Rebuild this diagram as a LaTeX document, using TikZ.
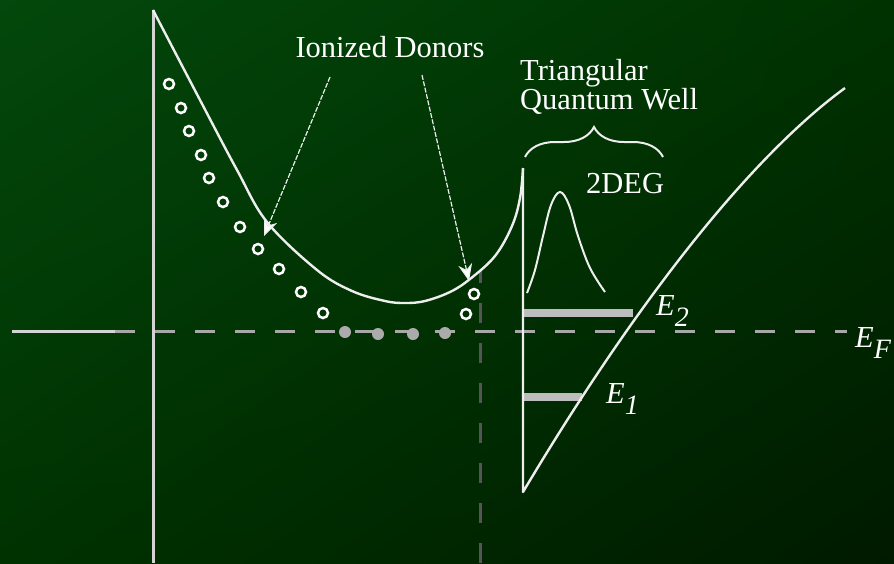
\documentclass[tikz,border=0pt]{standalone}
\usepackage{fontspec}
\setmainfont{Liberation Serif}
\usetikzlibrary{arrows.meta,decorations.pathreplacing,shadings}
\definecolor{bgA}{HTML}{03480C}
\definecolor{bgB}{HTML}{003200}
\definecolor{bgC}{HTML}{001A00}
\definecolor{linew}{HTML}{EEEEEE}
\definecolor{axisc}{HTML}{D4D4D4}
\definecolor{dashc}{HTML}{A8A8A8}
\definecolor{vdashc}{HTML}{555555}
\definecolor{barc}{HTML}{BDBDBD}
\definecolor{dotc}{HTML}{ABABAB}
\tikzset{
  band/.style={draw=linew, line width=2.4pt, line join=round},
  axisline/.style={draw=axisc, line width=3pt},
  efdash/.style={draw=dashc, line width=3pt, dash pattern=on 20pt off 20pt},
  vdash/.style={draw=vdashc, line width=3pt, dash pattern=on 20pt off 20pt},
  levelbar/.style={draw=barc, line width=8pt},
  ionring/.style={draw=white, line width=2.5pt},
  neutraldot/.style={fill=dotc},
  pointer/.style={draw=linew, line width=1.2pt, dash pattern=on 5pt off 1.5pt, -{Stealth[length=17pt,width=14pt,fill=white]}},
  bracestyle/.style={draw=linew, line width=2pt, decorate, decoration={brace, amplitude=30pt, aspect=0.5}},
  lbl/.style={text=white, inner sep=0pt, font=\fontsize{30.5}{32}\selectfont},
}
\newcommand{\Elab}[1]{\textit{E}\raisebox{-11pt}{\fontsize{28}{28}\selectfont\textit{#1}}}
\begin{document}
\begin{tikzpicture}[x=1pt,y=-1pt]
\useasboundingbox (0,0) rectangle (894,563);
\shade[upper left=bgA, upper right=bgB, lower left=bgB, lower right=bgC] (0,0) rectangle (894,563);

% Fermi level
\coordinate (efL) at (12,331);
\coordinate (efM) at (115,331);
\coordinate (efR) at (847,331);
\draw[efdash] (efM) -- (efR);
\draw[draw=axisc, line width=3pt] (efL) -- (efM);

% vertical dashed line
\coordinate (vdT) at (480,271);
\coordinate (vdB) at (480,563);
\draw[vdash, dash phase=8pt] (vdT) -- (vdB);

% left axis
\coordinate (axT) at (153,10);
\coordinate (axB) at (153,563);
\draw[axisline] (axT) -- (axB);

% energy level bars
\coordinate (e2L) at (523,313);
\coordinate (e2R) at (633,313);
\coordinate (e1L) at (523,397);
\coordinate (e1R) at (582,397);
\draw[levelbar] (e2L) -- (e2R);
\draw[levelbar] (e1L) -- (e1R);

% conduction band (donor layer)
\draw[band] plot[smooth, tension=0.6] coordinates {(153,10) (200,100) (237,170) (267,222) (317,270) (352,291) (385,301) (405,303) (425,301) (450,292) (470,279) (495,256) (512,226) (520,198) (523,168)};

% triangular well
\coordinate (wTop) at (523,168);
\coordinate (wBot) at (523,492);
\coordinate (wEnd) at (845,88);
\draw[band] (wTop) -- (wBot) .. controls (648,282) and (760,150) .. (wEnd);

% 2DEG wavefunction
\draw[band, line width=2pt] plot[smooth, tension=0.6] coordinates {(527,293) (535,270) (543,236) (551,205) (560,192) (569,205) (578,236) (590,268) (605,292)};

% ionized donors
\foreach \p in {(169,84),(181,108),(189,131),(201,155),(209,178),(223,202),(240,227),(258,249),(279,269),(301,292),(323,313),(466,314),(474,294)}
  \draw[ionring] \p circle (5pt);
% neutral donors
\foreach \p in {(345,332),(378,334),(413,334),(445,333)}
  \fill[neutraldot] \p circle (6pt);

% labels
\node[lbl, anchor=base] (donors) at (390,57) {Ionized Donors};
\node[lbl, anchor=north west, align=left, font=\fontsize{30.5}{27}\selectfont] (tqw) at (520,59) {Triangular\\Quantum Well};
\node[lbl, anchor=base west] (deg) at (586,193) {2DEG};
\node[lbl, anchor=base west] (E2) at (656,315) {\Elab{2}};
\node[lbl, anchor=base west] (E1) at (606,403) {\Elab{1}};
\node[lbl, anchor=base west] (EF) at (855,347) {\Elab{F}};

% pointers
\coordinate (p1s) at (330,77);
\coordinate (p1e) at (264,236);
\coordinate (p2s) at (422,75);
\coordinate (p2e) at (469,281);
\draw[pointer] (p1s) -- (p1e);
\draw[pointer] (p2s) -- (p2e);

% brace
\coordinate (brL) at (525,157);
\coordinate (brR) at (663,157);
\draw[bracestyle] (brL) -- (brR);
\end{tikzpicture}
\end{document}
